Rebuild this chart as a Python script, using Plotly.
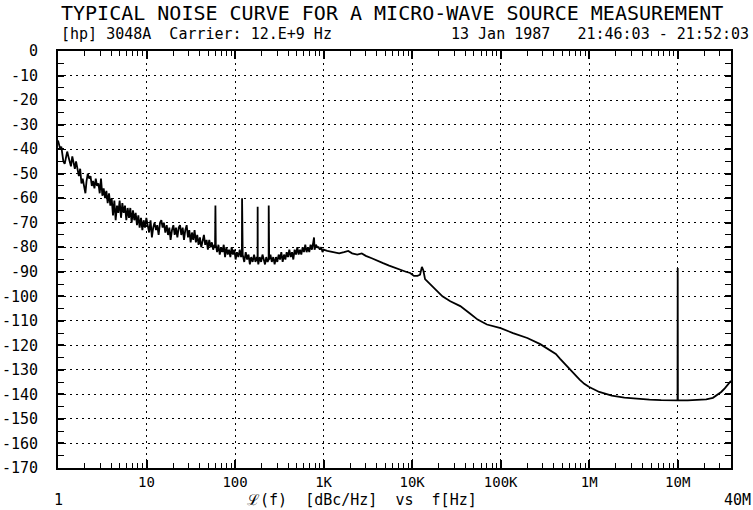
import plotly.graph_objects as go

# ---------------- data ----------------
freq_hz = [
    1.00, 1.03, 1.06, 1.09, 1.12, 1.15, 1.19, 1.23, 1.27, 1.31, 1.35, 1.40, 1.45, 1.50, 1.55, 1.60,
    1.66, 1.72, 1.78, 1.84, 1.90, 1.97, 2.04, 2.10, 2.17, 2.25, 2.33, 2.41, 2.49, 2.58, 2.67, 2.76,
    2.86, 2.96, 3.06, 3.17, 3.28, 3.40, 3.52, 3.64, 3.77, 3.90, 4.04, 4.18, 4.33, 4.48, 4.64, 4.80,
    4.97, 5.15, 5.33, 5.52, 5.71, 5.91, 6.12, 6.34, 6.56, 6.79, 7.03, 7.28, 7.54, 7.80, 8.08, 8.36,
    8.66, 8.97, 9.28, 9.61, 9.95, 10.3, 10.7, 11.1, 11.5, 11.9, 12.3, 12.8, 13.2, 13.7, 14.2, 14.7,
    15.2, 15.7, 16.3, 16.9, 17.5, 18.1, 18.7, 19.4, 20.1, 20.8, 21.5, 22.3, 23.1, 23.9, 24.7, 25.6,
    26.5, 27.4, 28.4, 29.4, 30.4, 31.5, 32.6, 33.7, 34.9, 36.1, 37.4, 38.7, 40.1, 41.5, 43.0, 44.5,
    46.0, 47.7, 49.3, 51.1, 52.9, 54.7, 56.6, 58.6, 59.4, 60.0, 60.6, 62.7, 64.9, 67.2, 69.6, 72.0,
    74.5, 77.1, 79.8, 82.6, 85.5, 88.5, 91.6, 94.8, 98.1, 101.5, 105, 109, 113, 117, 119.5, 120,
    120.5, 122, 127, 132, 137, 142, 147, 152, 158, 164, 170, 176, 179.5, 180, 180.5, 183,
    190, 197, 204, 211, 218, 225, 233, 239.5, 240, 240.5, 243, 251, 260, 270, 280, 290,
    300, 311, 322, 333, 345, 357, 370, 383, 396, 410, 425, 440, 455, 471, 488, 505,
    523, 541, 560, 580, 600, 621, 643, 666, 689, 713, 738, 764, 780, 791, 819, 848,
    877, 908, 940, 973, 1000, 1100, 1300, 1500, 1700, 1900, 2100, 2400, 2700, 3000, 3500, 4000,
    4700, 5500, 6500, 7500, 8500, 9500, 10500, 11500, 12300, 12900, 13400, 14000, 16000, 18500, 22000, 27000,
    35000, 45000, 55000, 70000, 100000, 138000, 200000, 280000, 360000, 420000, 470000, 530000, 600000, 680000, 780000, 880000,
    1000000, 1300000, 1800000, 2500000,
    3500000, 4800000, 6500000, 8500000, 9950000, 10000000, 10050000, 13000000, 17000000, 21000000, 25000000, 28000000, 31000000, 34000000, 37000000, 40000000,
]

noise_dbc = [
    -36.5, -38, -40, -39, -42, -45, -46, -43, -41, -43, -45, -47, -43, -46, -48, -45,
    -49, -51, -48, -54, -52, -56, -58, -53, -50, -52, -51, -55, -53, -56, -52, -55,
    -54, -58, -52, -59, -56, -60, -57, -62, -58, -63, -60, -67, -61, -69, -63, -66,
    -61, -68, -62, -66, -63, -69, -64, -68, -64, -70, -65, -69, -66, -71, -67, -72,
    -68, -73, -69, -72, -68, -71, -74, -69, -76, -72, -70, -73, -71, -75, -70, -69,
    -72, -70, -74, -71, -75, -72, -77, -73, -71, -75, -72, -76, -72, -71, -75, -72,
    -77, -73, -71, -76, -73, -78, -74, -77, -73, -78, -75, -79, -76, -80, -77, -75,
    -79, -77, -81, -77, -80, -78, -81, -79, -80, -63, -79, -82, -79, -83, -80, -82,
    -79, -84, -80, -83, -81, -84, -80, -83, -81, -85, -82, -84, -81, -84, -83, -60,
    -83, -83, -86, -82, -85, -83, -87, -84, -86, -83, -86, -84, -85, -63.5, -85, -87,
    -84, -86, -83, -85, -87, -84, -86, -85, -63, -85, -85, -83, -86, -84, -87, -84,
    -86, -83, -85, -82, -86, -83, -85, -82, -84, -81, -84, -82, -85, -81, -83, -80,
    -83, -81, -83, -80, -82, -79, -82, -80, -82, -79, -81, -78, -76, -81, -79, -80,
    -80, -81, -80, -82, -81, -81.5, -82, -82.5, -82, -81.5, -82.5, -83, -82.5, -83.5, -84.5, -85.5,
    -86.5, -87.5, -88.5, -89.5, -90, -90.5, -91.7, -91.7, -91.2, -88, -89.5, -93, -95, -97.5, -100, -102,
    -104, -107, -109.5, -111.5, -113, -115, -117, -119.5, -121.8, -123.5, -125.5, -127.5, -129.5, -132, -134, -135.7,
    -137, -139, -140.5, -141.3,
    -141.8, -142.1, -142.3, -142.4, -142.4, -88.5, -142.4, -142.4, -142.3, -142, -141.4, -140.3, -139, -137.5, -135.8, -134.5,
]

decade_ticks = [10, 100, 1000, 10000, 100000, 1000000, 10000000]
decade_labels = ["10", "100", "1K", "10K", "100K", "1M", "10M"]
db_ticks = list(range(-170, 1, 10))
db_labels = [str(v) for v in db_ticks]

title_text = "TYPICAL NOISE CURVE FOR A MICRO-WAVE SOURCE MEASUREMENT"
sub_left = "[hp] 3048A  Carrier: 12.E+9 Hz"
sub_right = "13 Jan 1987   21:46:03 - 21:52:03"
x_title = "\u2112(f)  [dBc/Hz]  vs  f[Hz]"
x_start_label = "1"
x_end_label = "40M"

# ---------------- figure ----------------
FONT = "DejaVu Sans Mono"
minor_vals = [m * 10 ** d for d in range(0, 8) for m in range(2, 10) if m * 10 ** d <= 4e7]

fig = go.Figure()
fig.add_trace(go.Scatter(
    x=freq_hz, y=noise_dbc, mode="lines",
    line=dict(color="black", width=1.8),
    hoverinfo="skip", showlegend=False,
))

fig.update_layout(
    width=753, height=510,
    margin=dict(l=58, r=22, t=51, b=42, autoexpand=False),
    paper_bgcolor="white", plot_bgcolor="white",
    font=dict(family=FONT, color="black", size=15),
    showlegend=False,
)

fig.update_xaxes(
    type="log", range=[0, 7.60206],
    tickmode="array", tickvals=decade_ticks, ticktext=decade_labels,
    ticks="inside", ticklen=8, tickwidth=1.5, tickcolor="black",
    showgrid=True, gridcolor="black", gridwidth=1.3, griddash="2px,4px",
    minor=dict(tickvals=minor_vals, ticks="inside", ticklen=5, tickwidth=1.2,
               tickcolor="black", showgrid=False),
    showline=True, linecolor="black", linewidth=2, mirror="allticks",
    tickfont=dict(family=FONT, size=14),
    ticklabelstandoff=0,
    zeroline=False, automargin=False,
)
fig.update_yaxes(
    range=[-170, 0],
    tickmode="array", tickvals=db_ticks, ticktext=db_labels,
    ticks="inside", ticklen=6, tickwidth=1.5, tickcolor="black",
    showgrid=True, gridcolor="black", gridwidth=1.3, griddash="2px,4px",
    minor=dict(dtick=5, ticks="inside", ticklen=6, tickwidth=1.2,
               tickcolor="black", showgrid=False),
    showline=True, linecolor="black", linewidth=2, mirror="allticks",
    tickfont=dict(family=FONT, size=15),
    ticklabelstandoff=15,
    zeroline=False, automargin=False,
)

def ann(text, x, y, size, xanchor="center"):
    fig.add_annotation(text=text, x=x, y=y, xref="paper", yref="paper",
                       xanchor=xanchor, yanchor="middle", showarrow=False,
                       font=dict(family=FONT, color="black", size=size))

ann(title_text, 0.497, 1.092, 20)
ann(sub_left, 0.002, 1.040, 15, "left")
ann(sub_right, 1.03, 1.040, 15, "right")
ann(x_title, 0.452, -0.076, 15)
ann(x_start_label, 0.0, -0.076, 15)
ann(x_end_label, 1.01, -0.076, 15)

fig.write_html("out.html", config={"displayModeBar": False},
               post_script="document.body.style.margin='0';")
